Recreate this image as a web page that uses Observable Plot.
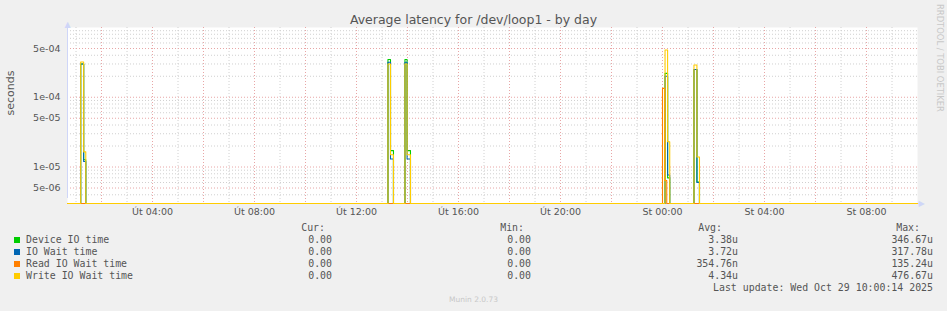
<!DOCTYPE html>
<html><head><meta charset="utf-8">
<script src="https://cdn.jsdelivr.net/npm/d3@7"></script>
<script src="https://cdn.jsdelivr.net/npm/@observablehq/plot@0.6"></script>
<style>
html,body{margin:0;padding:0;background:#f0f0f0;}
#wrap{position:relative;width:947px;height:311px;overflow:hidden;background:#f0f0f0;font-family:"DejaVu Sans",sans-serif;}
.abs{position:absolute;white-space:pre;}
.leg{font-family:"DejaVu Sans Mono",monospace;font-size:9.9px;line-height:12px;color:#555;}
</style></head><body>
<div id="wrap"></div>
<script>
// ---- data ----
const times = [
  "2025-10-28T00:40",
  "2025-10-28T01:11", "2025-10-28T01:18", "2025-10-28T01:23",
  "2025-10-28T13:14", "2025-10-28T13:20", "2025-10-28T13:27",
  "2025-10-28T13:54", "2025-10-28T13:59", "2025-10-28T14:07",
  "2025-10-29T00:00", "2025-10-29T00:05", "2025-10-29T00:06", "2025-10-29T00:10", "2025-10-29T00:12", "2025-10-29T00:17",
  "2025-10-29T01:14", "2025-10-29T01:21", "2025-10-29T01:27",
  "2025-10-29T10:00"
];
const deviceIO  = [0, 3.0e-4, 1.27e-5, 0, 3.47e-4, 1.72e-5, 0, 3.47e-4, 1.72e-5, 0, 0, 0,       2.2e-4,  2.2e-4,  7.0e-6, 0, 2.5e-4, 6.1e-6,  0, 0];
const ioWait    = [0, 3.0e-4, 1.2e-5,  0, 3.18e-4, 1.3e-5, 0, 3.18e-4, 1.3e-5, 0, 0, 0,       2.0e-4,  2.0e-4,  7.7e-6, 0, 2.5e-4, 6.0e-6,  0, 0];
const readWait  = [0, 0,      0,       0, 0,       0,      0, 0,       0,      0, 1.34e-4, 6.4e-6, 6.4e-6, 0,     0,      0, 0,      0,       0, 0];
const writeWait = [0, 3.2e-4, 1.65e-5, 0, 3.0e-4,  1.5e-5, 0, 3.0e-4,  1.5e-5, 0, 0, 0,       4.77e-4, 4.77e-4, 2.3e-5, 0, 2.9e-4, 1.39e-5, 0, 0];

const seriesNames  = ["Device IO time", "IO Wait time", "Read IO Wait time", "Write IO Wait time"];
const seriesColors = ["#00cc00", "#0066b3", "#ff8000", "#ffcc00"];
const curValues = ["0.00", "0.00", "0.00", "0.00"];
const minValues = ["0.00", "0.00", "0.00", "0.00"];
const avgValues = ["3.38u", "3.72u", "354.76n", "4.34u"];
const maxValues = ["346.67u", "317.78u", "135.24u", "476.67u"];

const xTickTimes  = ["2025-10-28T04:00", "2025-10-28T08:00", "2025-10-28T12:00", "2025-10-28T16:00", "2025-10-28T20:00", "2025-10-29T00:00", "2025-10-29T04:00", "2025-10-29T08:00"];
const xTickLabels = ["Út 04:00", "Út 08:00", "Út 12:00", "Út 16:00", "Út 20:00", "St 00:00", "St 04:00", "St 08:00"];
const yTickValues = [5e-4, 1e-4, 5e-5, 1e-5, 5e-6];
const yTickLabels = ["5e-04", "1e-04", "5e-05", "1e-05", "5e-06"];
const xStart = "2025-10-28T00:40", xEnd = "2025-10-29T10:00";
const yDomain = [3e-6, 1e-3];

// ---- build ----
const t0 = new Date(xStart), t1 = new Date(xEnd);
const rows = times.map((t, i) => ({time: new Date(t), v: [deviceIO[i], ioWait[i], readWait[i], writeWait[i]]}));
const tickDates = xTickTimes.map(t => new Date(t));

const hours = d3.timeHour.range(new Date(t0.getTime() + 1), t1);
const majorX = hours.filter(d => d.getHours() % 2 === 0);
const minorX = hours.filter(d => d.getHours() % 2 === 1);
const minorY = [];
for (let e = -6; e <= -4; e++) for (let m = 2; m <= 9; m++) {
  const v = m * Math.pow(10, e);
  if (m !== 5 && v > yDomain[0] && v < yDomain[1]) minorY.push(v);
}
const yTicks = yTickValues.map((v, i) => ({v, label: yTickLabels[i]}));

const gridMinor = "#d0d0d0", gridMajor = "#e8a6a6", axisCol = "#cfd6f8";

const chart = Plot.plot({
  width: 947, height: 225,
  marginLeft: 67, marginRight: 30, marginTop: 27, marginBottom: 22,
  style: {background: "transparent", overflow: "visible", fontFamily: "DejaVu Sans", fontSize: "9.5px", color: "#555"},
  x: {type: "time", domain: [t0, t1], ticks: tickDates, tickFormat: d => xTickLabels[tickDates.findIndex(t => +t === +d)], tickSize: 0, tickPadding: 5, label: null},
  y: {type: "log", domain: yDomain, clamp: true, axis: null},
  marks: [
    Plot.frame({fill: "white", stroke: null}),
    Plot.ruleY(minorY, {stroke: gridMinor, strokeDasharray: "1,2"}),
    Plot.ruleX(minorX, {stroke: gridMinor, strokeDasharray: "1,2"}),
    Plot.ruleY(yTickValues, {stroke: gridMajor, strokeDasharray: "1,2"}),
    Plot.ruleX(majorX, {stroke: gridMajor, strokeDasharray: "1,2"}),
    Plot.ruleX([t0], {stroke: axisCol, y1: yDomain[0], y2: yDomain[1], insetTop: -5}),
    Plot.ruleY([yDomain[0]], {stroke: axisCol, insetRight: -4}),
    ...seriesColors.map((c, k) => Plot.line(rows, {x: "time", y: d => d.v[k], curve: "step-after", stroke: c, strokeWidth: 1.1})),
    Plot.text(yTicks, {y: "v", text: "label", frameAnchor: "left", textAnchor: "end", dx: -7, fill: "#555", fontSize: 9.5}),
    Plot.text(["▲"], {frameAnchor: "top-left", textAnchor: "middle", lineAnchor: "bottom", dy: -1, fill: axisCol, fontSize: 8}),
    Plot.text(["▶"], {frameAnchor: "bottom-right", textAnchor: "start", lineAnchor: "middle", dx: 1, fill: axisCol, fontSize: 8}),
    Plot.text(["seconds"], {frameAnchor: "left", dx: -57, rotate: -90, fontSize: 11, fill: "#555"})
  ]
});

const wrap = document.getElementById("wrap");
chart.style.position = "absolute";
chart.style.left = "0px";
chart.style.top = "0px";
wrap.appendChild(chart);

function addDiv(text, css, cls) {
  const d = document.createElement("div");
  d.className = "abs" + (cls ? " " + cls : "");
  d.textContent = text;
  Object.assign(d.style, css);
  wrap.appendChild(d);
  return d;
}
// title
addDiv("Average latency for /dev/loop1 - by day", {left: "0px", width: "947px", top: "12px", textAlign: "center", fontSize: "12.5px", lineHeight: "15px", color: "#555"});
// side credit
addDiv("RRDTOOL / TOBI OETIKER", {left: "944px", top: "4px", fontSize: "8.4px", lineHeight: "9px", color: "#c8c8c8", transformOrigin: "0 0", transform: "rotate(90deg)"});
// footer
addDiv("Munin 2.0.73", {left: "0px", width: "947px", top: "295px", textAlign: "center", fontSize: "7.5px", lineHeight: "10px", color: "#c8c8c8"});

// legend
const W = 947;
const hdrTop = 221.5;
addDiv("Cur:", {right: (W - 325) + "px", top: hdrTop + "px"}, "leg");
addDiv("Min:", {right: (W - 524) + "px", top: hdrTop + "px"}, "leg");
addDiv("Avg:", {right: (W - 722) + "px", top: hdrTop + "px"}, "leg");
addDiv("Max:", {right: (W - 920) + "px", top: hdrTop + "px"}, "leg");
seriesNames.forEach((name, i) => {
  const top = hdrTop + 12 * (i + 1);
  const sq = document.createElement("div");
  Object.assign(sq.style, {position: "absolute", left: "14px", top: (top + 3) + "px", width: "6px", height: "6px", background: seriesColors[i]});
  wrap.appendChild(sq);
  addDiv(name, {left: "26px", top: top + "px"}, "leg");
  addDiv(curValues[i], {right: (W - 332) + "px", top: top + "px"}, "leg");
  addDiv(minValues[i], {right: (W - 531) + "px", top: top + "px"}, "leg");
  addDiv(avgValues[i], {right: (W - 738) + "px", top: top + "px"}, "leg");
  addDiv(maxValues[i], {right: (W - 933) + "px", top: top + "px"}, "leg");
});
addDiv("Last update: Wed Oct 29 10:00:14 2025", {right: (W - 933) + "px", top: (hdrTop + 60) + "px"}, "leg");
</script>
</body></html>
